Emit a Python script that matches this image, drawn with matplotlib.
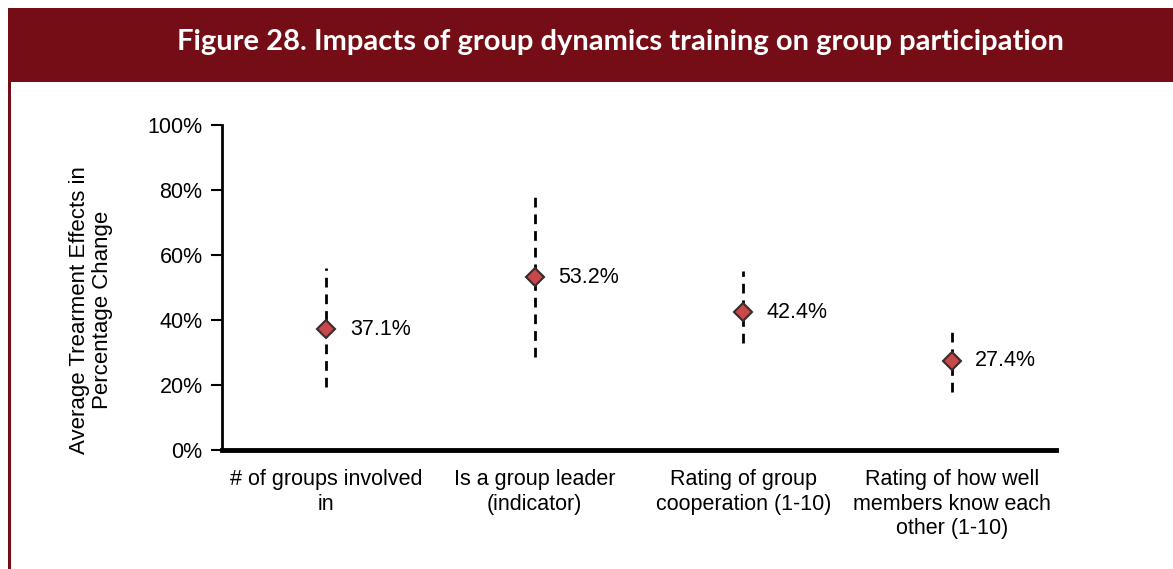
import matplotlib
matplotlib.use("Agg")
import matplotlib.pyplot as plt
from matplotlib.patches import Rectangle

categories = ["# of groups involved\nin", "Is a group leader\n(indicator)",
              "Rating of group\ncooperation (1-10)", "Rating of how well\nmembers know each\nother (1-10)"]
means = [37.1, 53.2, 42.4, 27.4]
lower = [19.5, 28.5, 33.0, 18.0]
upper = [56.0, 79.0, 55.0, 38.0]
labels = ["37.1%", "53.2%", "42.4%", "27.4%"]
yticks = [0, 20, 40, 60, 80, 100]

W, H = 1173, 569
fig = plt.figure(figsize=(W/100, H/100), dpi=100)
plt.rcParams['font.family'] = ['Liberation Sans', 'DejaVu Sans']
FS = 15.5

# header band
fig.patches.append(Rectangle((8/W, 1-82/H), 1-8/W, 74/H, transform=fig.transFigure,
                             facecolor="#740d16", edgecolor="none", zorder=0))
fig.patches.append(Rectangle((8/W, 0), 2.5/W, 1-82/H, transform=fig.transFigure,
                             facecolor="#740d16", edgecolor="none", zorder=0))
fig.text(620/W, 1-42/H, "Figure 28. Impacts of group dynamics training on group participation",
         color="white", fontsize=21, fontweight="bold", ha="center", va="center",
         family=["Lato", "DejaVu Sans"])

ax = fig.add_axes([222/W, 1-450/H, (1056-222)/W, (450-125)/H])
x = list(range(len(means)))
for xi, lo, hi in zip(x, lower, upper):
    ax.plot([xi, xi], [lo, hi], color="black", lw=2, ls=(0, (3.5, 2.5)), zorder=2)
ax.plot(x, means, ls="none", marker="D", markersize=9.5, markerfacecolor="#c8474a",
        markeredgecolor="#3a2a2a", markeredgewidth=1.5, zorder=3)
for xi, m, lab in zip(x, means, labels):
    ax.annotate(lab, (xi, m), xytext=(17, 0), textcoords="offset points",
                ha="left", va="center", fontsize=FS)

ax.set_xlim(-0.5, 3.5)
ax.set_ylim(0, 100)
ax.set_yticks(yticks)
ax.set_yticklabels([f"{t}%" for t in yticks], fontsize=FS)
ax.set_xticks(x)
ax.set_xticklabels(categories, fontsize=FS, linespacing=1.2)
ax.tick_params(axis="x", length=0, pad=14)
ax.tick_params(axis="y", length=8, width=1.5, direction="out", pad=6)
for s in ["top", "right"]:
    ax.spines[s].set_visible(False)
ax.spines["left"].set_linewidth(2)
ax.spines["bottom"].set_linewidth(3.5)
ax.set_ylabel("Average Trearment Effects in\nPercentage Change", fontsize=16,
              linespacing=1.12)
ax.yaxis.set_label_coords(-0.131, 0.43)

fig.savefig("out.png", dpi=100)
